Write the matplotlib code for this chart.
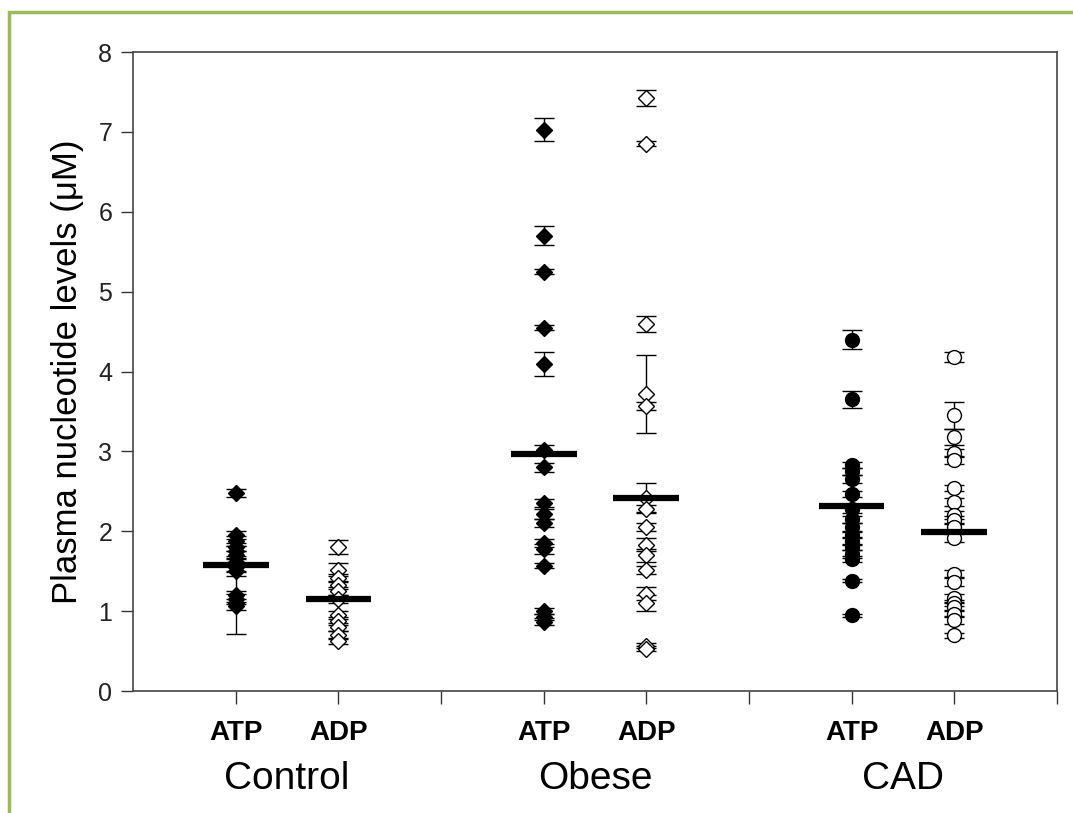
import matplotlib
matplotlib.use("Agg")
import matplotlib.pyplot as plt
from matplotlib.patches import Rectangle

plt.rcParams['font.family'] = ['Liberation Sans', 'DejaVu Sans']

# значения по группам (мкМ)
control_atp = [2.48, 1.95, 1.88, 1.80, 1.75, 1.70, 1.62, 1.55, 1.50, 1.20, 1.15, 1.10, 1.07]
control_atp_err = [0.05, 0.05, 0.06, 0.05, 0.06, 0.05, 0.05, 0.05, 0.06, 0.05, 0.06, 0.39, 0.05]
control_adp = [1.80, 1.52, 1.42, 1.33, 1.25, 1.15, 0.95, 0.88, 0.80, 0.70, 0.63]
control_adp_err = [0.09, 0.08, 0.05, 0.05, 0.05, 0.05, 0.05, 0.05, 0.05, 0.05, 0.04]

obese_atp = [7.03, 5.70, 5.25, 4.55, 4.10, 3.02, 2.80, 2.35, 2.22, 2.10, 1.85, 1.78, 1.57, 1.00, 0.93, 0.87]
obese_atp_err = [0.15, 0.12, 0.03, 0.03, 0.15, 0.06, 0.06, 0.05, 0.06, 0.05, 0.05, 0.06, 0.03, 0.04, 0.04, 0.04]
obese_adp = [7.42, 6.85, 4.60, 3.72, 3.57, 2.42, 2.28, 2.05, 1.83, 1.70, 1.52, 1.22, 1.10, 0.57, 0.53]
obese_adp_err = [0.10, 0.03, 0.10, 0.49, 0.05, 0.18, 0.05, 0.05, 0.08, 0.08, 0.05, 0.08, 0.10, 0.03, 0.03]

cad_atp = [4.40, 3.65, 2.83, 2.75, 2.65, 2.47, 2.28, 2.15, 2.05, 1.95, 1.88, 1.80, 1.72, 1.65, 1.38, 0.95]
cad_atp_err = [0.12, 0.11, 0.04, 0.04, 0.05, 0.04, 0.05, 0.04, 0.05, 0.04, 0.05, 0.04, 0.05, 0.04, 0.02, 0.02]
cad_adp = [4.18, 3.45, 3.18, 2.98, 2.89, 2.54, 2.37, 2.20, 2.14, 2.05, 1.91, 1.47, 1.37, 1.17, 1.10, 1.05, 0.97, 0.89, 0.70]
cad_adp_err = [0.06, 0.17, 0.10, 0.05, 0.05, 0.04, 0.05, 0.05, 0.05, 0.05, 0.05, 0.04, 0.05, 0.05, 0.04, 0.05, 0.04, 0.05, 0.03]

# средние (толстые горизонтальные линии)
means = [1.58, 1.15, 2.97, 2.42, 2.32, 1.99]

groups = ['Control', 'Obese', 'CAD']
nucleotides = ['ATP', 'ADP']

fig = plt.figure(figsize=(10.73, 8.13), dpi=100)
ax = fig.add_axes([0.124, 0.150, 0.861, 0.786])

series = [
    (control_atp, control_atp_err, 'D', 'black'),
    (control_adp, control_adp_err, 'D', 'white'),
    (obese_atp, obese_atp_err, 'D', 'black'),
    (obese_adp, obese_adp_err, 'D', 'white'),
    (cad_atp, cad_atp_err, 'o', 'black'),
    (cad_adp, cad_adp_err, 'o', 'white'),
]
positions = [1, 2, 4, 5, 7, 8]

for pos, (vals, errs, mk, fc), m in zip(positions, series, means):
    ax.errorbar([pos] * len(vals), vals, yerr=errs, fmt='none', ecolor='black',
                elinewidth=1.0, capsize=7, capthick=1.0, zorder=2)
    ax.plot([pos] * len(vals), vals, linestyle='none', marker=mk,
            markersize=8.5 if mk == 'D' else 10, markerfacecolor=fc,
            markeredgecolor='black', markeredgewidth=1.0, zorder=3)
    ax.hlines(m, pos - 0.32, pos + 0.32, colors='black', linewidth=4.5, zorder=4)

ax.set_xlim(0, 9)
ax.set_ylim(0, 8)
ax.set_xticks(range(1, 10))
ax.set_xticklabels([])
ax.set_yticks(range(0, 9))
ax.tick_params(axis='both', direction='out', length=9, width=1, colors='#333333')
ax.tick_params(axis='y', pad=6, labelsize=18, labelcolor='#222222')
for sp in ax.spines.values():
    sp.set_color('#444444')
    sp.set_linewidth(1.2)

ax.set_ylabel('Plasma nucleotide levels (\u03bcM)', fontsize=25, labelpad=10)

# подписи по оси x
for i, g in enumerate(groups):
    for j, n in enumerate(nucleotides):
        x = positions[i * 2 + j]
        ax.text(x, -0.52, n, ha='center', va='center', fontsize=20,
                fontweight='bold', transform=ax.transData, clip_on=False)
    xc = (positions[i * 2] + positions[i * 2 + 1]) / 2
    ax.text(xc, -1.1, g, ha='center', va='center', fontsize=28,
            transform=ax.transData, clip_on=False)

# зелёная рамка слайда
fig.patches.append(Rectangle((9 / 1073, -0.1), 1.2, 1 - 12 / 813 + 0.1,
                             transform=fig.transFigure, fill=False,
                             edgecolor='#9bbb59', linewidth=2.5))

fig.savefig('out.png', dpi=100)
